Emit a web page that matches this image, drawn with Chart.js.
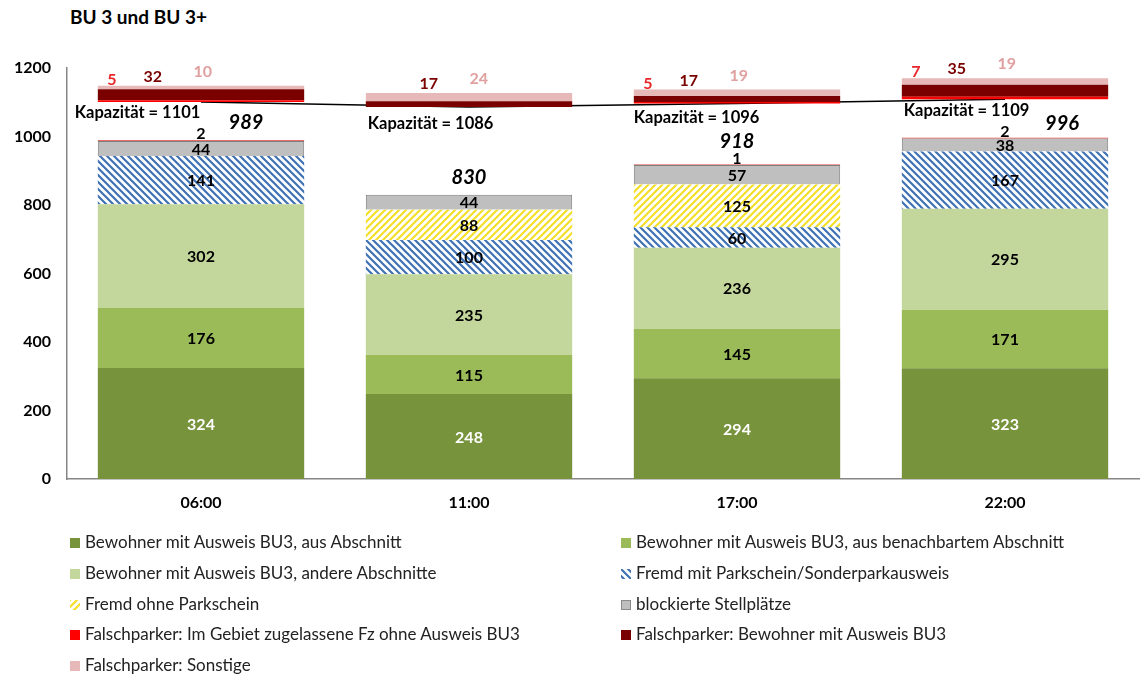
<!DOCTYPE html>
<html>
<head>
<meta charset="utf-8">
<script src="https://cdn.jsdelivr.net/npm/chart.js@4/dist/chart.umd.min.js"></script>
<style>
  body { margin: 0; background: #fff; }
  #wrap { position: relative; width: 1142px; height: 675px; font-family: Lato, 'Noto Sans', sans-serif; }
  #chart { position: absolute; left: 0; top: 0; }
  .title { position: absolute; left: 70px; top: 5px; font-weight: bold; font-size: 19px; color: #000; }
  .leg { position: absolute; font-size: 17px; color: #222; white-space: nowrap; line-height: 20px; }
  .sw { display: inline-block; width: 10px; height: 10px; margin-right: 5px; vertical-align: 0px; }
</style>
</head>
<body>
<div id="wrap">
  <div class="title">BU 3 und BU 3+</div>
  <canvas id="chart" width="1142" height="675"></canvas>
</div>
<script>
const zeiten = ['06:00', '11:00', '17:00', '22:00'];

// Belegung innerhalb der Kapazität
const bewohnerAbschnitt = [324, 248, 294, 323];
const bewohnerNachbar = [176, 115, 145, 171];
const bewohnerAndere = [302, 235, 236, 295];
const fremdMitSchein = [141, 100, 60, 167];
const fremdOhneSchein = [0, 88, 125, 0];
const blockiert = [44, 44, 57, 38];
const sonstigeOben = [2, 0, 1, 2];

// Kapazität und Falschparker (oberhalb der Kapazität)
const kapazitaet = [1101, 1086, 1096, 1109];
const falschZugelassen = [5, 0, 5, 7];
const falschBewohner = [32, 17, 17, 35];
const falschSonstige = [10, 24, 19, 19];

const yTicks = [0, 200, 400, 600, 800, 1000, 1200];

const FONT = "Lato, 'Noto Sans', sans-serif";

function stripes(color, dir) {
    const c = document.createElement('canvas');
    c.width = 7; c.height = 7;
    const g = c.getContext('2d');
    g.fillStyle = '#fff';
    g.fillRect(0, 0, 7, 7);
    g.strokeStyle = color;
    g.lineWidth = 2.2;
    g.beginPath();
    if (dir === 'down') {
        g.moveTo(-1, -1); g.lineTo(8, 8);
        g.moveTo(-8, -1); g.lineTo(1, 8);
        g.moveTo(6, -1); g.lineTo(15, 8);
    } else {
        g.moveTo(-1, 8); g.lineTo(8, -1);
        g.moveTo(-8, 8); g.lineTo(1, -1);
        g.moveTo(6, 8); g.lineTo(15, -1);
    }
    g.stroke();
    return c;
}

const blueTile = stripes('#3f72b4', 'down');
const yellowTile = stripes('#f3df2a', 'up');
const ctx = document.getElementById('chart').getContext('2d');
const bluePattern = ctx.createPattern(blueTile, 'repeat');
const yellowPattern = ctx.createPattern(yellowTile, 'repeat');

const totals = zeiten.map((z, i) => bewohnerAbschnitt[i] + bewohnerNachbar[i] + bewohnerAndere[i] +
    fremdMitSchein[i] + fremdOhneSchein[i] + blockiert[i] + sonstigeOben[i]);
const luecke = kapazitaet.map((k, i) => k - totals[i]);

const legendItems = [
    { label: 'Bewohner mit Ausweis BU3, aus Abschnitt', bg: '#77933c' },
    { label: 'Bewohner mit Ausweis BU3, aus benachbartem Abschnitt', bg: '#9bbb59' },
    { label: 'Bewohner mit Ausweis BU3, andere Abschnitte', bg: '#c3d69b' },
    { label: 'Fremd mit Parkschein/Sonderparkausweis', bg: 'url(' + blueTile.toDataURL() + ')' },
    { label: 'Fremd ohne Parkschein', bg: 'url(' + yellowTile.toDataURL() + ')' },
    { label: 'blockierte Stellplätze', bg: '#bfbfbf', border: '#8a8a8a' },
    { label: 'Falschparker: Im Gebiet zugelassene Fz ohne Ausweis BU3', bg: '#ff0000' },
    { label: 'Falschparker: Bewohner mit Ausweis BU3', bg: '#7a0000' },
    { label: 'Falschparker: Sonstige', bg: '#e6b9b8' }
];

const wrap = document.getElementById('wrap');
legendItems.forEach((it, i) => {
    const d = document.createElement('div');
    d.className = 'leg';
    d.style.left = (i % 2 === 0 ? 70 : 621) + 'px';
    d.style.top = (532 + Math.floor(i / 2) * 30.8) + 'px';
    const b = it.border ? 'border:1px solid ' + it.border + ';width:8px;height:8px;' : '';
    d.innerHTML = '<span class="sw" style="background:' + it.bg + ';' + b + '"></span>' + it.label;
    wrap.appendChild(d);
});

function bar(label, data, bg, extra) {
    return Object.assign({
        type: 'bar', label: label, data: data, backgroundColor: bg,
        stack: 'main', borderWidth: 0, barPercentage: 1, categoryPercentage: 0.77
    }, extra || {});
}

const labelPlugin = {
    id: 'labels',
    afterDatasetsDraw(chart) {
        const c = chart.ctx;
        const y = chart.scales.y;
        c.save();
        c.textAlign = 'center';
        c.textBaseline = 'middle';
        // Werte in den Segmenten
        for (let d = 0; d < 6; d++) {
            const meta = chart.getDatasetMeta(d);
            const ds = chart.data.datasets[d];
            meta.data.forEach((el, i) => {
                const v = ds.data[i];
                if (!v) return;
                c.font = 'bold 16px ' + FONT;
                c.fillStyle = d === 0 ? '#fff' : '#000';
                c.fillText(v, el.x, (el.y + el.base) / 2 + 1);
            });
        }
        // kleine Werte oben
        const mTop = chart.getDatasetMeta(6);
        mTop.data.forEach((el, i) => {
            const v = sonstigeOben[i];
            if (!v) return;
            c.font = 'bold 16px ' + FONT;
            c.fillStyle = '#000';
            c.fillText(v, el.x, el.y - 6);
        });
        // Summen
        const totalDx = [45, 0, 0, 57];
        const totalDy = [18, 17, 23, 14];
        mTop.data.forEach((el, i) => {
            c.font = 'italic bold 20px ' + FONT;
            c.fillStyle = '#000';
            c.fillText(totals[i], el.x + totalDx[i], y.getPixelForValue(totals[i]) - totalDy[i]);
        });
        // Kapazität
        const capDx = [-23, 2, 0, 2];
        const capDy = [11, 17, 14, 12];
        c.textAlign = 'left';
        mTop.data.forEach((el, i) => {
            c.font = 'bold 16.5px ' + FONT;
            c.fillStyle = '#000';
            c.fillText('Kapazität = ' + kapazitaet[i], el.x - el.width / 2 + capDx[i],
                y.getPixelForValue(kapazitaet[i]) + capDy[i]);
        });
        // Falschparker
        c.textAlign = 'center';
        const redSets = [
            { data: falschZugelassen, color: '#e8262b', dx: 14, dy: 6 },
            { data: falschBewohner, color: '#7a0000', dx: 55, dy: 9 },
            { data: falschSonstige, color: '#e0a0a0', dx: 105, dy: 14 }
        ];
        const mLast = chart.getDatasetMeta(10);
        mLast.data.forEach((el, i) => {
            const left = el.x - el.width / 2;
            redSets.forEach(r => {
                if (!r.data[i]) return;
                c.font = 'bold 16px ' + FONT;
                c.fillStyle = r.color;
                c.fillText(r.data[i], left + r.dx + (i === 1 ? 8 : 0), el.y - r.dy);
            });
        });
        c.restore();
    }
};

new Chart(ctx, {
    data: {
        labels: zeiten,
        datasets: [
            bar(legendItems[0].label, bewohnerAbschnitt, '#77933c'),
            bar(legendItems[1].label, bewohnerNachbar, '#9bbb59'),
            bar(legendItems[2].label, bewohnerAndere, '#c3d69b'),
            bar(legendItems[3].label, fremdMitSchein, bluePattern),
            bar(legendItems[4].label, fremdOhneSchein, yellowPattern),
            bar(legendItems[5].label, blockiert, '#bfbfbf', { borderColor: '#7f7f7f', borderWidth: 1 }),
            bar('Falschparker (innerhalb)', sonstigeOben, '#e03a3a'),
            bar('Lücke', luecke, 'rgba(0,0,0,0)'),
            bar(legendItems[6].label, falschZugelassen, '#ff0000'),
            bar(legendItems[7].label, falschBewohner, '#7a0000'),
            bar(legendItems[8].label, falschSonstige, '#e6b9b8'),
            {
                type: 'line', label: 'Kapazität', data: kapazitaet, stack: 'cap',
                borderColor: '#000', borderWidth: 1.5, pointRadius: 0, order: 5
            }
        ]
    },
    options: {
        responsive: false,
        animation: false,
        layout: { padding: { top: 68, left: 0, right: 3, bottom: 156 } },
        plugins: { legend: { display: false }, tooltip: { enabled: false } },
        scales: {
            x: {
                stacked: true,
                grid: { display: false, drawTicks: false },
                border: { display: true, color: '#868686', width: 1.5 },
                ticks: { color: '#000', font: { family: FONT, size: 16, weight: 'bold' }, padding: 14 },
                afterFit(s) { s.height = 40; }
            },
            y: {
                stacked: true,
                min: 0, max: 1200,
                grid: { display: false, drawTicks: false },
                border: { display: true, color: '#868686', width: 1.5 },
                afterBuildTicks(s) { s.ticks = yTicks.map(v => ({ value: v })); },
                ticks: {
                    color: '#000', font: { family: FONT, size: 16, weight: 'bold' }, padding: 16,
                    callback: v => String(v)
                },
                afterFit(s) { s.width = 67; }
            }
        }
    },
    plugins: [labelPlugin]
});
</script>
</body>
</html>
